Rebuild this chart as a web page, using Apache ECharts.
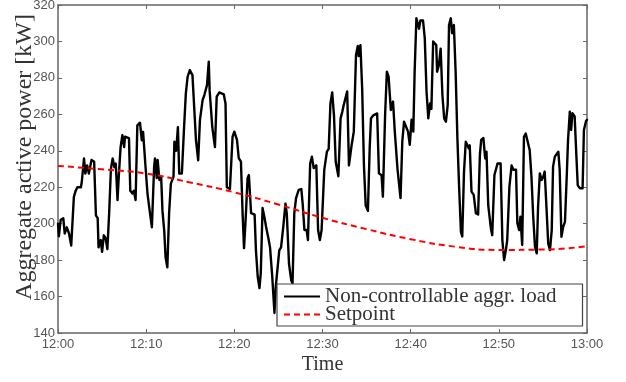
<!DOCTYPE html>
<html>
<head>
<meta charset="utf-8">
<script src="https://cdn.jsdelivr.net/npm/echarts@6/dist/echarts.min.js"></script>
<style>
html,body{margin:0;padding:0;background:#fff;}
#chart{width:626px;height:382px;}
</style>
</head>
<body>
<div id="chart"></div>
<script>
// Time ticks (minutes after 12:00) and labels
var tickMinutes = [0, 10, 20, 30, 40, 50, 60];
var tickLabels = ['12:00', '12:10', '12:20', '12:30', '12:40', '12:50', '13:00'];

// Non-controllable aggregated load: minutes after 12:00
var loadTime = [0,0.1,0.3,0.6,0.76,1.0,1.25,1.5,1.65,1.8,2.0,2.2,2.6,2.7,2.95,3.1,3.3,3.5,3.8,4.1,4.3,4.5,4.6,4.85,5.0,5.2,5.4,5.6,5.8,6.0,6.2,6.4,6.55,6.75,6.9,7.1,7.3,7.5,7.6,8.05,8.2,8.45,8.6,8.8,9.0,9.3,9.5,9.65,9.9,10.15,10.4,10.65,10.9,11.0,11.2,11.3,11.5,11.7,11.85,12.05,12.2,12.4,12.6,12.8,13.1,13.2,13.4,13.6,13.75,14.05,14.3,14.5,14.7,14.95,15.25,15.65,15.9,16.1,16.4,16.6,16.9,17.1,17.2,17.5,17.8,18.0,18.3,18.8,19.0,19.15,19.5,19.8,20.0,20.3,20.5,20.75,20.95,21.1,21.3,21.5,21.65,21.9,22.3,22.45,22.65,22.85,23.0,23.2,23.4,23.6,23.9,24.05,24.3,24.55,24.7,25.1,25.3,25.55,25.8,25.95,26.2,26.45,26.6,26.8,27.0,27.3,27.6,27.75,27.95,28.2,28.35,28.6,28.8,29.0,29.3,29.5,29.7,29.9,30.2,30.5,30.7,30.9,31.1,31.3,31.5,31.8,32.05,32.25,32.4,32.8,33.0,33.3,33.55,33.8,34.0,34.1,34.3,34.5,34.7,34.9,35.15,35.35,35.5,35.8,36.2,36.4,36.7,36.85,37.1,37.3,37.5,37.75,38.0,38.2,38.5,38.65,38.85,39.05,39.25,39.4,39.7,39.9,40.1,40.3,40.45,40.65,40.95,41.1,41.4,41.6,41.8,42.0,42.2,42.35,42.55,42.7,42.9,43.0,43.2,43.4,43.6,43.8,44.0,44.2,44.35,44.55,44.7,44.9,45.1,45.3,45.5,45.7,45.85,46.05,46.25,46.4,46.6,46.7,46.9,47.15,47.4,47.65,47.85,48.0,48.25,48.45,48.6,48.8,49.1,49.25,49.5,49.65,49.85,50.2,50.4,50.6,50.8,50.95,51.2,51.45,51.65,51.95,52.1,52.3,52.45,52.65,52.85,53.05,53.25,53.5,53.7,53.9,54.1,54.3,54.45,54.65,54.85,55.05,55.2,55.4,55.6,55.8,56.0,56.15,56.35,56.75,56.9,57.1,57.3,57.5,57.7,57.85,58.05,58.2,58.35,58.6,58.8,58.95,59.2,59.5,59.65,59.9,60];
// Non-controllable aggregated load: kW
var loadKW = [200,193,202,203,194.6,198,194.6,188,188,214.7,218,220,220,223,235.8,227.5,232,227.5,235,234,204.6,203,187,191,184.5,193.6,192,186,205.6,230,235.8,231,233,212.9,226.6,242,248.6,242,247.7,247,218,216.5,218,213,254,255.4,245.8,250.4,233,216.5,207,198,231,235.8,225,235,224,225.7,207,196,181.7,176,205.6,222,225.7,245,240,253,227.5,227.5,253,271.5,280.6,284.3,281.5,245.8,234.8,256.8,267.8,270.6,276,288.9,273,253,242,269.7,272,271,266,220,219,247.7,250.5,246,236,234,204,186.6,204,225,226.7,205.8,205,185.5,171,164.6,173,208.6,204,198.3,191,187,171,151,165.4,185.5,187,198.3,211,205.6,178,169,167.3,205.6,214,218.5,219,211,196.5,196.5,191,233,236.8,230.5,232,196.5,191,196.5,229.5,239.5,241,266,272,259.6,234,226,257.8,261.5,265,272.6,232,243,250.5,292.6,297.5,292,298,274,232,210,207,241.3,257.8,259.6,260.5,227.6,226.6,214.8,259.6,283.4,280.6,262.4,267,250.5,230.4,229.6,214,245,256,257,250.5,243.3,257,250.5,283.4,312.7,307,311.5,311.5,301.7,272.4,257.8,266,263,300,301,298,283.4,287,296,270.6,257.8,256,265,309,312.7,304.5,309,283.4,246.8,219.4,195.6,193,228.5,245,245,241.3,243,217.6,215.8,205.7,205,237.7,246,247,235.8,239.5,210,197.4,193.7,226.7,227.5,233,233,191,180,185.5,191,220.3,232,229.6,229.6,200.2,196.5,203.8,188.3,247.7,249.5,250.4,240.4,225.8,203.8,187.4,183.7,209.3,227.6,224,225.8,228.6,209.3,189.2,185.5,196.5,231.3,236.8,239.5,229.6,192.8,198.3,201,225.8,246,261.5,251.4,260.6,258.8,236.8,221,219.4,219.4,251.4,256.5,257];

// Setpoint
var setTime = [0, 5, 10, 15, 20, 25, 30, 35, 40, 45, 50, 55, 60];
var setKW = [231.7, 229.8, 227.5, 222.6, 217.2, 210.5, 203.2, 197, 191.5, 187.4, 185.6, 185.8, 187.6];

var seriesNames = ['Non-controllable aggr. load', 'Setpoint'];

function zip(a, b) { return a.map(function (v, i) { return [v, b[i]]; }); }
function fmtTime(v) {
  var i = tickMinutes.indexOf(v);
  return i >= 0 ? tickLabels[i] : '';
}

var axisCol = '#666';
var labelCol = '#555';
var serif = '"Liberation Serif", "DejaVu Serif", serif';
var sans = '"Liberation Sans", Arial, sans-serif';

var chart = echarts.init(document.getElementById('chart'), null, {renderer: 'canvas'});
chart.setOption({
  animation: false,
  backgroundColor: '#fff',
  grid: {left: 58, right: 39, top: 5, bottom: 49, containLabel: false, outerBoundsMode: 'none'},
  xAxis: [{
    type: 'value', min: 0, max: 60, interval: 10,
    name: 'Time', nameLocation: 'middle', nameGap: 22, nameMoveOverlap: false,
    nameTextStyle: {fontFamily: serif, fontSize: 20, color: '#333'},
    axisLine: {show: true, onZero: false, lineStyle: {color: axisCol, width: 1.5}},
    axisTick: {show: true, inside: true, length: 4, lineStyle: {color: axisCol}},
    axisLabel: {formatter: fmtTime, color: labelCol, fontFamily: sans, fontSize: 13, margin: 5},
    splitLine: {show: false}
  }, {
    type: 'value', min: 0, max: 60, interval: 10, position: 'top',
    axisLine: {show: true, onZero: false, lineStyle: {color: axisCol, width: 1.5}},
    axisTick: {show: true, inside: true, length: 4, lineStyle: {color: axisCol}},
    axisLabel: {show: false}, splitLine: {show: false}
  }],
  yAxis: [{
    type: 'value', min: 140, max: 320, interval: 20,
    name: 'Aggregate active power [kW]', nameLocation: 'middle', nameGap: 21, nameMoveOverlap: false,
    nameTextStyle: {fontFamily: serif, fontSize: 24, color: '#333', padding: [0, 0, 0, 24]},
    axisLine: {show: true, onZero: false, lineStyle: {color: axisCol, width: 1.5}},
    axisTick: {show: true, inside: true, length: 4, lineStyle: {color: axisCol}},
    axisLabel: {color: labelCol, fontFamily: sans, fontSize: 13, margin: 3},
    splitLine: {show: false}
  }, {
    type: 'value', min: 140, max: 320, interval: 20, position: 'right',
    axisLine: {show: true, onZero: false, lineStyle: {color: axisCol, width: 1.5}},
    axisTick: {show: true, inside: true, length: 4, lineStyle: {color: axisCol}},
    axisLabel: {show: false}, splitLine: {show: false}
  }],
  legend: {
    show: true, orient: 'vertical', left: 277, top: 284,
    backgroundColor: '#fff', borderColor: '#444', borderWidth: 1.2, borderRadius: 0,
    padding: [2, 26, 1, 7], itemGap: -3, itemWidth: 36, itemHeight: 14,
    textStyle: {fontFamily: serif, fontSize: 21, color: '#333'},
    data: [
      {name: seriesNames[0], icon: 'path://M0,0 L36,0 L36,2 L0,2 Z'},
      {name: seriesNames[1], icon: 'path://M0,0h6v2h-6z M10,0h6v2h-6z M20,0h6v2h-6z M30,0h6v2h-6z'}
    ]
  },
  series: [{
    name: seriesNames[0], type: 'line', showSymbol: false, symbol: 'none',
    data: zip(loadTime, loadKW),
    lineStyle: {color: '#000', width: 2.4, join: 'round', cap: 'round'},
    itemStyle: {color: '#000'}, z: 2
  }, {
    name: seriesNames[1], type: 'line', showSymbol: false, symbol: 'none', smooth: true,
    data: zip(setTime, setKW),
    lineStyle: {color: '#f00', width: 2, type: [6, 4]},
    itemStyle: {color: '#f00'}, z: 3
  }]
});
</script>
</body>
</html>
